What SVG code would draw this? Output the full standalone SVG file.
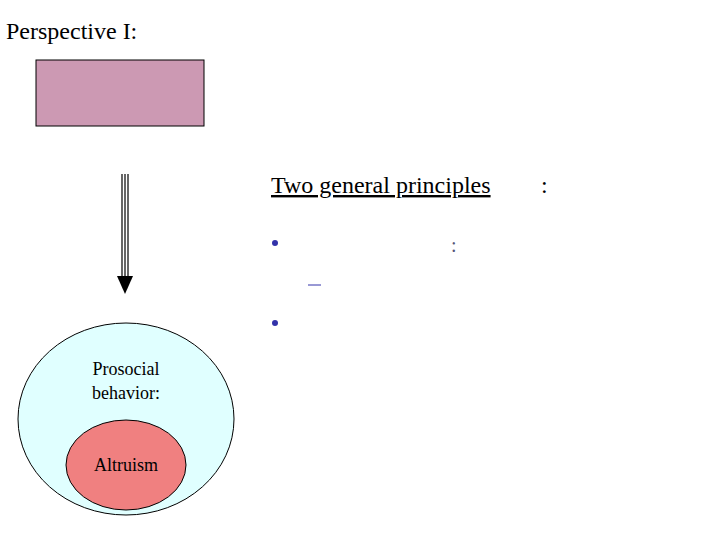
<svg xmlns="http://www.w3.org/2000/svg" width="720" height="540" viewBox="0 0 720 540">
<style>
.t{font-family:"Liberation Serif",serif;fill:#000}
.b{fill:#3333aa}
</style>
<rect width="720" height="540" fill="#fff"/>
<text class="t" x="6" y="39" font-size="24">Perspective I:</text>
<g id="box"><rect x="36" y="60" width="168" height="66" fill="#cc99b3" stroke="#000" stroke-width="1"/></g>
<g id="connectors">
<g stroke="#000" stroke-width="1.2">
<line x1="122" y1="174" x2="122" y2="278"/>
<line x1="125" y1="174" x2="125" y2="278"/>
<line x1="128" y1="174" x2="128" y2="278"/>
</g>
<polygon points="117,276 133,276 125,294" fill="#000"/>
</g>
<g id="prosocial">
<ellipse cx="126" cy="419" rx="108" ry="96" fill="#e0ffff" stroke="#000" stroke-width="1"/>
<text class="t" x="126" y="375" font-size="18" text-anchor="middle">Prosocial</text>
<text class="t" x="126" y="399" font-size="18" text-anchor="middle">behavior:</text>
</g>
<g id="altruism">
<ellipse cx="126" cy="465" rx="60" ry="45" fill="#f08080" stroke="#000" stroke-width="1"/>
<text class="t" x="126" y="471" font-size="18" text-anchor="middle">Altruism</text>
</g>
<g id="principles">
<text class="t" x="271" y="193" font-size="24" text-decoration="underline">Two general principles</text>
<text class="t" x="541" y="193" font-size="24">:</text>
<circle class="b" cx="275" cy="243" r="3"/>
<text x="451" y="252" font-size="20" font-family="Liberation Serif,serif" fill="#555577">:</text>
<line x1="308" y1="285" x2="321" y2="285" stroke="#3333aa" stroke-width="1"/>
<circle class="b" cx="275" cy="323" r="3"/>
</g>
</svg>
